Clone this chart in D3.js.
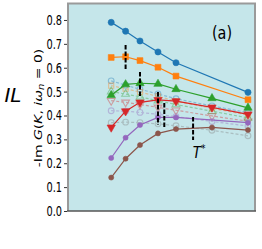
<!DOCTYPE html>
<html>
<head>
<meta charset="UTF-8">
<script src="https://d3js.org/d3.v7.min.js"></script>
<style>
  body { margin: 0; background: #fff; }
  text { font-family: "DejaVu Sans", sans-serif; fill: #000; }
</style>
</head>
<body>
<svg width="262" height="249"></svg>
<script>
// temperatures (x) shared by all curves
const temps = [0.034, 0.042, 0.05, 0.06, 0.07, 0.09, 0.11];

// solid curves (null = no point)
const blueVals   = [0.79, 0.753, 0.712, 0.666, 0.621, null, 0.497];
const orangeVals = [0.643, 0.646, 0.63, 0.602, 0.565, null, 0.466];
const greenVals  = [0.485, 0.53, 0.535, 0.532, 0.51, 0.472, 0.432];
const redVals    = [0.35, 0.418, 0.455, 0.465, 0.46, 0.434, 0.405];
const purpleVals = [0.222, 0.307, 0.36, 0.392, 0.392, null, 0.37];
const brownVals  = [0.14, 0.219, 0.276, 0.325, 0.343, 0.35, 0.339];

// dashed, faded curves
const lBlueVals   = [0.545, 0.527, 0.51, 0.49, 0.47, 0.44, 0.412];
const lOrangeVals = [0.525, 0.512, 0.498, 0.48, 0.46, 0.43, 0.402];
const lGreenVals  = [0.50, 0.49, 0.478, 0.462, 0.446, 0.418, 0.39];
const lRedVals    = [0.462, 0.455, 0.446, 0.434, 0.422, 0.398, 0.376];
const lPurpleVals = [0.42, 0.418, 0.413, 0.405, 0.395, 0.375, 0.356];
const lBrownVals  = [0.37, 0.372, 0.37, 0.365, 0.357, 0.338, 0.315];

// T* markers: position and vertical extent
const tStarT  = [0.042, 0.05, 0.06, 0.0635, 0.0795];
const tStarLo = [0.59, 0.477, 0.36, 0.348, 0.297];
const tStarHi = [0.695, 0.582, 0.498, 0.452, 0.394];

const yTicks = [0.0, 0.1, 0.2, 0.3, 0.4, 0.5, 0.6, 0.7, 0.8];

const solid = [
  { vals: blueVals,   color: "#1f77b4", sym: d3.symbolCircle,   size: 30 },
  { vals: orangeVals, color: "#ff7f0e", sym: d3.symbolSquare,   size: 34 },
  { vals: greenVals,  color: "#2ca02c", sym: d3.symbolTriangle, size: 30 },
  { vals: redVals,    color: "#d62728", sym: d3.symbolTriangle, size: 30, down: true },
  { vals: purpleVals, color: "#9467bd", sym: d3.symbolCircle,   size: 20 },
  { vals: brownVals,  color: "#8c564b", sym: d3.symbolCircle,   size: 20 }
];
const faded = [
  { vals: lBlueVals,   color: "#1f77b4", sym: d3.symbolCircle,   size: 26 },
  { vals: lOrangeVals, color: "#ff7f0e", sym: d3.symbolSquare,   size: 26 },
  { vals: lGreenVals,  color: "#2ca02c", sym: d3.symbolTriangle, size: 26 },
  { vals: lRedVals,    color: "#d62728", sym: d3.symbolTriangle, size: 26, down: true },
  { vals: lPurpleVals, color: "#9467bd", sym: d3.symbolCircle,   size: 26 },
  { vals: lBrownVals,  color: "#7f7f7f", sym: d3.symbolCircle,   size: 26 }
];

const svg = d3.select("svg");
const pLeft = 68, pRight = 255, pTop = 3.5, pBottom = 211;

const x = d3.scaleLinear().domain([0.01, 0.1139]).range([pLeft, pRight]);
const y = d3.scaleLinear().domain([0, 0.869]).range([pBottom, pTop]);

// plot background
svg.append("rect")
  .attr("x", pLeft).attr("y", pTop)
  .attr("width", pRight - pLeft).attr("height", pBottom - pTop)
  .attr("fill", "#c5e6ea");

const line = d3.line()
  .x(d => x(d.t)).y(d => y(d.v));

function drawSeries(s, dashed) {
  const pts = temps.map((t, i) => ({ t: t, v: s.vals[i] })).filter(d => d.v != null);
  const g = svg.append("g").attr("opacity", dashed ? 0.38 : 1);
  g.append("path")
    .datum(pts)
    .attr("d", line)
    .attr("fill", "none")
    .attr("stroke", s.color)
    .attr("stroke-width", 1.2)
    .attr("stroke-dasharray", dashed ? "3,2" : null);
  g.selectAll("path.m")
    .data(pts)
    .enter().append("path")
    .attr("class", "m")
    .attr("d", d3.symbol().type(s.sym).size(s.size))
    .attr("transform", d => `translate(${x(d.t)},${y(d.v)})` + (s.down ? " rotate(180)" : ""))
    .attr("fill", dashed ? "none" : s.color)
    .attr("stroke", s.color)
    .attr("stroke-width", dashed ? 1.1 : 0.6);
}

faded.forEach(s => drawSeries(s, true));
solid.forEach(s => drawSeries(s, false));

// T* dashed markers
svg.append("g").selectAll("line")
  .data(tStarT)
  .enter().append("line")
  .attr("x1", d => x(d)).attr("x2", d => x(d))
  .attr("y1", (d, i) => y(tStarHi[i]))
  .attr("y2", (d, i) => y(tStarLo[i]))
  .attr("stroke", "#000")
  .attr("stroke-width", 2)
  .attr("stroke-dasharray", "4.5,2");

// spines
svg.append("path")
  .attr("d", `M${pLeft},${pBottom}V${pTop}H${pRight}V${pBottom}`)
  .attr("fill", "none").attr("stroke", "#9a9a9a").attr("stroke-width", 2);
svg.append("line")
  .attr("x1", pLeft - 1).attr("x2", pRight + 1)
  .attr("y1", pBottom).attr("y2", pBottom)
  .attr("stroke", "#555").attr("stroke-width", 1.3);

// y axis
const ya = svg.append("g")
  .attr("transform", `translate(${pLeft - 1},0)`)
  .call(d3.axisLeft(y).tickValues(yTicks).tickFormat(d3.format(".1f")).tickSize(3).tickPadding(2));
ya.select(".domain").remove();
ya.selectAll(".tick line").attr("stroke", "#333");
ya.selectAll("text")
  .attr("x", 0)
  .attr("transform", "translate(-5,0) scale(0.7,1)")
  .style("font-size", "14px");

// labels
svg.append("text")
  .attr("transform", "translate(42,108) scale(0.8,1) rotate(-90)")
  .attr("text-anchor", "middle")
  .style("font-size", "14px")
  .html('-Im <tspan font-style="italic">G</tspan>(<tspan font-style="italic">K</tspan>, <tspan font-style="italic">iω</tspan><tspan font-style="italic" font-size="10px" dy="3">n</tspan><tspan dy="-3"> = 0)</tspan>');

svg.append("text")
  .attr("x", 13).attr("y", 102)
  .attr("text-anchor", "middle")
  .style("font-size", "20px")
  .style("font-style", "italic")
  .text("IL");

svg.append("text")
  .attr("transform", "translate(222,39) scale(0.8,1)")
  .attr("text-anchor", "middle")
  .style("font-size", "18px")
  .text("(a)");

svg.append("text")
  .attr("transform", "translate(199,158) scale(0.9,1)")
  .attr("text-anchor", "middle")
  .style("font-size", "15px")
  .style("font-style", "italic")
  .html('T<tspan font-size="10px" dy="-6">*</tspan>');
</script>
</body>
</html>
